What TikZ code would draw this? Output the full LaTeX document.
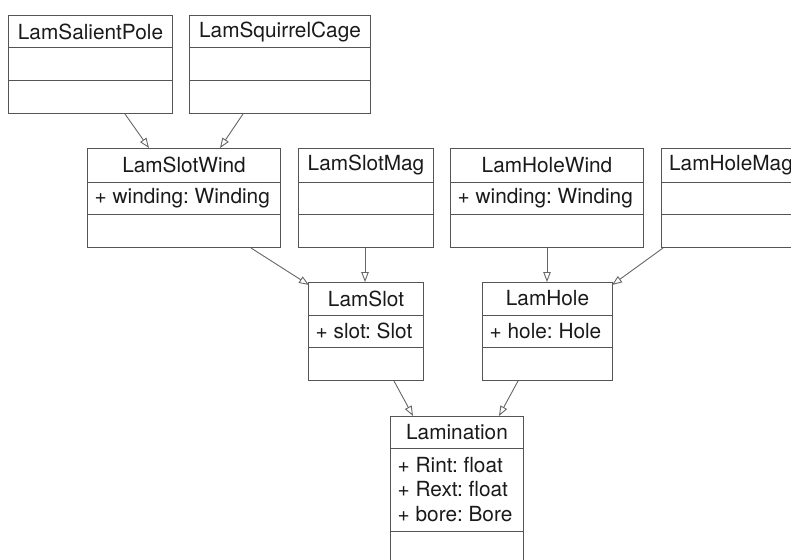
\documentclass[tikz,border=0pt]{standalone}
\usepackage{fontspec}
\setmainfont{TeX Gyre Heros}
\frenchspacing
\usetikzlibrary{arrows.meta,calc}
\definecolor{boxc}{HTML}{555555}
\definecolor{arrc}{HTML}{666666}
\definecolor{txtc}{HTML}{1A1A1A}
\newcommand{\umlclass}[9]{%
  \node[classframe, minimum width=#4pt, minimum height=#5pt+#6pt+#7pt, anchor=north west] (#1) at (#2,#3) {};
  \draw[classline] ([yshift=-#5pt]#1.north west) -- ([yshift=-#5pt]#1.north east);
  \draw[classline] ([yshift=-#5pt-#6pt]#1.north west) -- ([yshift=-#5pt-#6pt]#1.north east);
  \node[ttl] (#1-title) at ([yshift=-#5pt/2]#1.north) {#8};
  \if\relax\detokenize{#9}\relax\else
  \node[attr] (#1-attrs) at ([xshift=7.5pt, yshift=-#5pt-#6pt/2]#1.north west) {#9};
  \fi
}
\begin{document}
\begin{tikzpicture}[x=1pt,y=-1pt,
  classframe/.style={draw=boxc, line width=1pt, inner sep=0pt, fill=white},
  classline/.style={draw=boxc, line width=1pt},
  ttl/.style={inner sep=0pt, text=txtc, font=\fontsize{20.8}{24.5}\selectfont\frenchspacing},
  attr/.style={inner sep=0pt, anchor=west, align=left, text=txtc, font=\fontsize{20.8}{24.5}\selectfont\frenchspacing},
  gen/.style={draw=arrc, line width=0.9pt, -{Triangle[open, length=10pt, width=7.5pt]}}]
\useasboundingbox (0,0) rectangle (791,559);
\clip (0,0) rectangle (791,559);
% classes
\umlclass{sp}{8}{15}{164}{33}{33}{32}{LamSalientPole}{}
\umlclass{sc}{189}{15}{181}{33}{33}{32}{LamSquirrelCage}{}
\umlclass{sw}{87}{148}{193}{34}{32}{33}{LamSlotWind}{+ winding: Winding}
\umlclass{sm}{298}{148}{135}{34}{32}{33}{LamSlotMag}{}
\umlclass{hw}{450}{148}{193}{34}{32}{33}{LamHoleWind}{+ winding: Winding}
\umlclass{hm}{661}{148}{139}{34}{32}{33}{LamHoleMag}{}
\umlclass{slot}{308}{282}{115}{33}{32}{33}{LamSlot}{+ slot: Slot}
\umlclass{hole}{482}{282}{130}{33}{32}{33}{LamHole}{+ hole: Hole}
\umlclass{lam}{390}{416}{133}{32}{83}{34}{Lamination}{+ Rint: float\\+ Rext: float\\+ bore: Bore}
% generalizations
\draw[gen] ($(sp.south west)+(117,0)$) -- ($(sw.north west)+(62,0)$);
\draw[gen] ($(sc.south west)+(54,0)$) -- ($(sw.north west)+(133,0)$);
\draw[gen] ($(sw.south west)+(164,0)$) -- ($(slot.north west)+(1,3)$);
\draw[gen] ($(sm.south west)+(67,0)$) -- ($(slot.north west)+(57,0)$);
\draw[gen] ($(hw.south west)+(97,0)$) -- ($(hole.north west)+(65,0)$);
\draw[gen] ($(hm.south west)+(2,0)$) -- ($(hole.north east)+(-1,3)$);
\draw[gen] ($(slot.south west)+(86,0)$) -- ($(lam.north west)+(23,0)$);
\draw[gen] ($(hole.south west)+(36,0)$) -- ($(lam.north west)+(109,0)$);
\end{tikzpicture}
\end{document}
